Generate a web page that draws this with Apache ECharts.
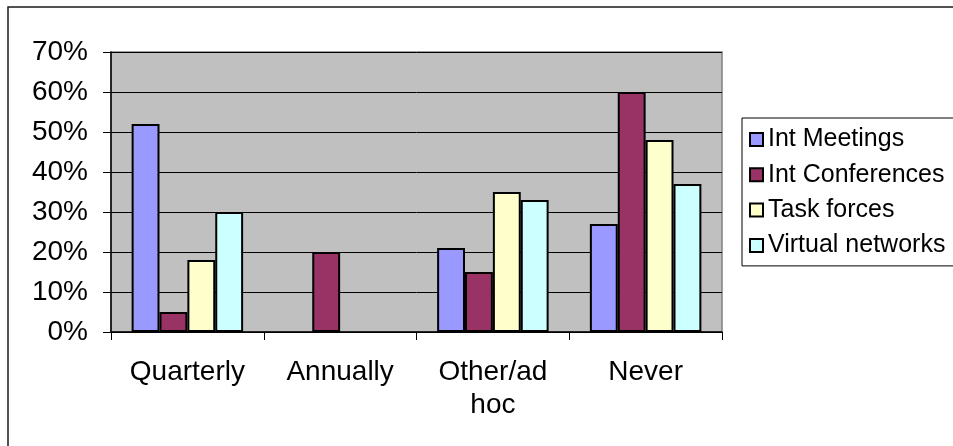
<!DOCTYPE html>
<html>
<head>
<meta charset="utf-8">
<script src="https://cdn.jsdelivr.net/npm/echarts@6/dist/echarts.min.js"></script>
<style>
html,body{margin:0;padding:0;background:#fff;}
#chart{width:953px;height:446px;}
</style>
</head>
<body>
<div id="chart"></div>
<script>
var categories = ['Quarterly', 'Annually', 'Other/ad\nhoc', 'Never'];
var seriesNames = ['Int Meetings', 'Int Conferences', 'Task forces', 'Virtual networks'];
var intMeetings = [52, null, 21, 27];
var intConferences = [5, 20, 15, 60];
var taskForces = [18, null, 35, 48];
var virtualNetworks = [30, null, 33, 37];
var yTicks = [0, 10, 20, 30, 40, 50, 60, 70];
var colors = ['#9999FF', '#993366', '#FFFFCC', '#CCFFFF'];

var seriesData = [intMeetings, intConferences, taskForces, virtualNetworks];
var font = 'Liberation Sans, Arial, sans-serif';

var chart = echarts.init(document.getElementById('chart'), null, {renderer: 'canvas'});
chart.setOption({
  animation: false,
  backgroundColor: '#fff',
  textStyle: {fontFamily: font},
  graphic: [{
    type: 'rect',
    shape: {x: 8, y: 7, width: 1000, height: 1000},
    style: {fill: 'none', stroke: '#1a1a1a', lineWidth: 1.5},
    silent: true,
    z: -1
  }],
  grid: {
    left: 111, top: 52, width: 611, height: 280,
    show: true, backgroundColor: '#C0C0C0',
    borderColor: '#808080', borderWidth: 1.5,
    containLabel: false
  },
  legend: {
    orient: 'vertical',
    left: 742, top: 118,
    padding: [9, 14, 8, 7],
    backgroundColor: '#fff',
    borderColor: '#000',
    borderWidth: 1,
    itemWidth: 13, itemHeight: 13,
    itemGap: 10.3,
    icon: 'rect',
    textStyle: {fontFamily: font, fontSize: 25, color: '#000', lineHeight: 25, padding: [0, 0, 0, 0]},
    itemStyle: {borderColor: '#000', borderWidth: 2},
    data: seriesNames
  },
  xAxis: {
    type: 'category',
    data: categories,
    axisLine: {lineStyle: {color: '#000', width: 1.5}},
    axisTick: {show: true, length: 8, lineStyle: {color: '#000', width: 1}},
    axisLabel: {fontFamily: font, fontSize: 28, color: '#000', margin: 24, lineHeight: 33, interval: 0}
  },
  yAxis: {
    type: 'value',
    min: yTicks[0], max: yTicks[yTicks.length - 1], interval: 10,
    axisLine: {show: true, lineStyle: {color: '#000', width: 1.5}},
    axisTick: {show: true, length: 8, lineStyle: {color: '#000', width: 1}},
    splitLine: {show: true, lineStyle: {color: '#000', width: 1}},
    axisLabel: {fontFamily: font, fontSize: 28, color: '#000', margin: 23, formatter: '{value}%'}
  },
  series: seriesNames.map(function (name, i) {
    return {
      name: name,
      type: 'bar',
      data: seriesData[i],
      barGap: '0%',
      barCategoryGap: '27%',
      itemStyle: {color: colors[i], borderColor: '#000', borderWidth: 2}
    };
  })
});
</script>
</body>
</html>
